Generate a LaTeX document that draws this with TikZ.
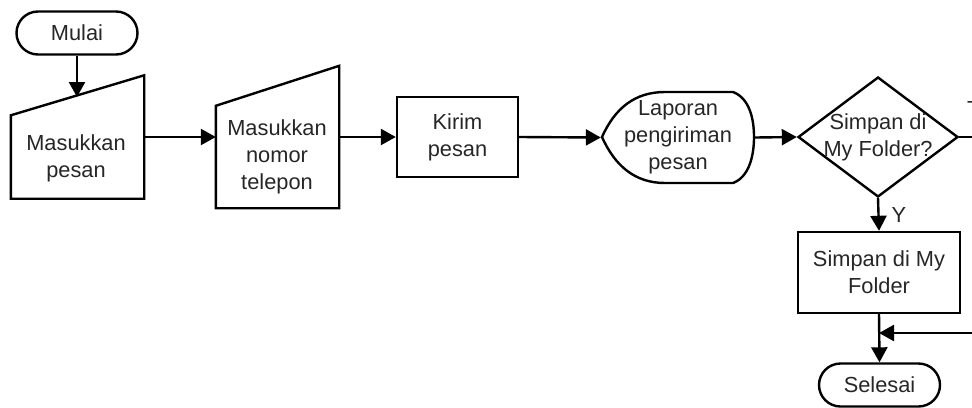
\documentclass[tikz,border=0pt]{standalone}
\usepackage{fontspec}
\setmainfont{Liberation Sans}
\usetikzlibrary{arrows.meta,shapes.geometric}
\begin{document}
\begin{tikzpicture}[x=0.5pt,y=-0.5pt, line width=1.2pt,
  every node/.style={font=\fontsize{10.9}{13.5}\selectfont, align=center, inner sep=0pt, text=black!85},
  tip/.style={-{Triangle[length=7.5pt,width=8pt]}},
  outline/.style={draw=black, line width=1.2pt},
  term/.style={outline, rounded corners=10.75pt, minimum width=60.5pt, minimum height=21.5pt},
  procbox/.style={outline, rectangle},
]
\useasboundingbox (0,0) rectangle (972,407);
\clip (0,0) rectangle (972,407);

% terminals
\node[term] (mulai) at (77,33) {Mulai};
\node[term] (selesai) at (879.5,385) {Selesai};

% manual input 1
\node[minimum width=65.5pt, minimum height=60.5pt] (mp) at (77.5,137) {};
\draw ([yshift=-20pt]mp.north west) -- (mp.north east) -- (mp.south east) -- (mp.south west) -- cycle;
\node (mptext) at (76,158) {Masukkan\\pesan};
\coordinate (mptop) at (77,97);

% manual input 2
\node[minimum width=60.5pt, minimum height=70pt] (mn) at (277.5,137) {};
\draw ([yshift=-20pt]mn.north west) -- (mn.north east) -- (mn.south east) -- (mn.south west) -- cycle;
\node (mntext) at (277,157) {Masukkan\\nomor\\telepon};

% process
\node[procbox, minimum width=60.5pt, minimum height=40pt] (kirim) at (457.5,137) {Kirim\\pesan};

% display
\node[minimum width=76pt, minimum height=45.5pt] (lap) at (678,137.5) {};
\draw (602,137) .. controls (615,108) and (635,92) .. (665,92) -- (733,92)
  .. controls (749,98) and (754,118) .. (754,137)
  .. controls (754,156) and (749,177) .. (733,183) -- (665,183)
  .. controls (635,183) and (615,166) .. (602,137) -- cycle;
\node (laptext) at (678,137) {Laporan\\pengiriman\\pesan};

% decision
\node[diamond, outline, minimum width=80pt, minimum height=60pt] (dec) at (878,137) {};
\node (dectext) at (878,137) {Simpan di\\My Folder?};

% process 2
\node[procbox, minimum width=81pt, minimum height=40.5pt] (simpan) at (879,272.5) {Simpan di My\\Folder};

% connectors
\draw[tip] (mulai.south) -- (mptop);
\draw[tip] (mp.east) -- (mn.west);
\draw[tip] (mn.east) -- (kirim.west);
\draw[tip] (kirim.east) -- (lap.west);
\draw[tip] (lap.east) -- (dec.west);
\coordinate (exitT) at (980,137);
\draw (dec.east) -- (exitT);
\node[anchor=north west] (tlabel) at (966,100) {T};
\draw[tip] (dec.south) -- node[right=6pt] (ylabel) {Y} (simpan.north);
\draw[tip] (simpan.south) -- (selesai.north);
\coordinate (entry) at (980,333);
\coordinate (join) at (879,333);
\draw[tip] (entry) -- (join);
\end{tikzpicture}
\end{document}
